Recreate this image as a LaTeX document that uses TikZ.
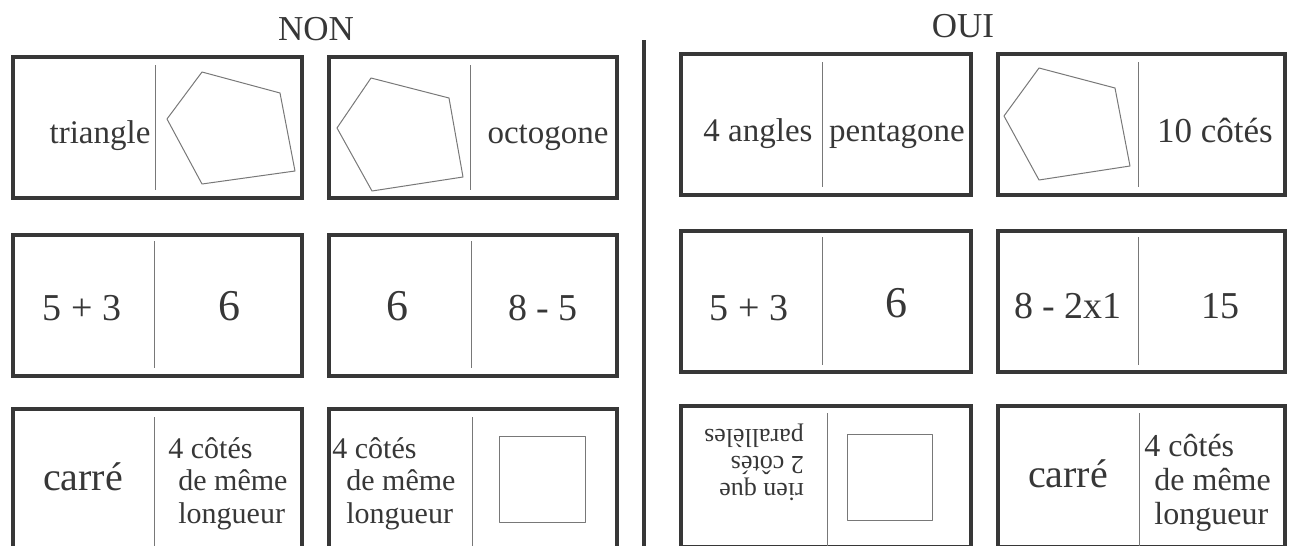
\documentclass[tikz,border=0pt]{standalone}
\usepackage{fontspec}
\setmainfont{Liberation Serif}
\usetikzlibrary{positioning}
\definecolor{inkgray}{RGB}{55,55,55}
\definecolor{rulegray}{RGB}{120,120,120}

\begin{document}
\begin{tikzpicture}[x=0.5pt, y=-0.5pt,
    card/.style={draw=inkgray, line width=1.7pt},
    divline/.style={draw=rulegray, line width=0.45pt},
    outline/.style={draw=rulegray, line width=0.5pt, line join=round},
    word/.style={text=inkgray, inner sep=0pt, anchor=base, font=\fontsize{16.5}{19}\selectfont},
    bigword/.style={word, font=\fontsize{19}{22}\selectfont},
    small/.style={word, anchor=base west, font=\fontsize{15}{17}\selectfont}]
    \useasboundingbox (0,0) rectangle (1292,546);
    \clip (0,0) rectangle (1292,546);

    % Titres
    \node[word, font=\fontsize{17.5}{20}\selectfont] (non) at (316,40) {NON};
    \node[word, font=\fontsize{17.5}{20}\selectfont] (oui) at (963,37) {OUI};
    \draw[draw=inkgray, line width=2pt] (644,40) -- (644,546);

    % Cartes (gauche et droite)
    \foreach \y in {57,235,409} {
        \draw[card] (13,\y) rectangle (302,\y+141);
        \draw[card] (329,\y) rectangle (617,\y+141);
    }
    \foreach \y in {54,231,406} {
        \draw[card] (681,\y) rectangle (971,\y+141);
        \draw[card] (998,\y) rectangle (1285,\y+141);
    }

    % Traits du milieu
    \draw[divline] (155,65) -- (155,190);
    \draw[divline] (470,65) -- (470,190);
    \draw[divline] (822,62) -- (822,187);
    \draw[divline] (1138,62) -- (1138,187);
    \draw[divline] (154,241) -- (154,368);
    \draw[divline] (471,241) -- (471,368);
    \draw[divline] (822,237) -- (822,365);
    \draw[divline] (1138,237) -- (1138,365);
    \draw[divline] (154,417) -- (154,546);
    \draw[divline] (472,417) -- (472,546);
    \draw[divline] (827,413) -- (827,546);
    \draw[divline] (1139,413) -- (1139,546);

    % Ligne 1
    \node[word] (tri) at (100,143) {triangle};
    \draw[outline] (202,72) -- (280,93) -- (295,171) -- (202,184) -- (167,119) -- cycle;
    \draw[outline] (371,78) -- (449,98) -- (463,177) -- (372,191) -- (337,128) -- cycle;
    \node[word] (oct) at (548,143) {octogone};
    \node[word] (ang) at (758,141) {4 angles};
    \node[word] (pen) at (897,141) {pentagone};
    \draw[outline] (1039,68) -- (1115,88) -- (1130,166) -- (1039,180) -- (1004,116) -- cycle;
    \node[word, font=\fontsize{17.5}{20}\selectfont] (dix) at (1215,142) {10 côtés};

    % Ligne 2
    \node[bigword] (s1) at (82,320) {5 + 3};
    \node[word, font=\fontsize{22}{24}\selectfont] (six1) at (229,320) {6};
    \node[word, font=\fontsize{22}{24}\selectfont] (six2) at (397,320) {6};
    \node[bigword] (d1) at (543,320) {8 - 5};
    \node[bigword] (s2) at (749,320) {5 + 3};
    \node[word, font=\fontsize{22}{24}\selectfont] (six3) at (896,317) {6};
    \node[bigword] (d2) at (1068,318) {8 - 2x1};
    \node[bigword] (quinze) at (1220,318) {15};

    % Ligne 3
    \node[word, font=\fontsize{20}{22}\selectfont] (car1) at (83,490) {carré};
    \node[small] (a1) at (168,458) {4 côtés};
    \node[small] (a2) at (178,490) {de même};
    \node[small] (a3) at (178,523) {longueur};
    \node[small] (b1) at (332,458) {4 côtés};
    \node[small] (b2) at (346,490) {de même};
    \node[small] (b3) at (346,523) {longueur};
    \draw[outline] (499,436) rectangle (585,522);
    \node[text=inkgray, inner sep=0pt, align=left, rotate=180,
          font=\fontsize{13}{13.5}\selectfont] (rien) at (754,462)
          {rien que\\2 côtés\\parallèles};
    \draw[outline] (847,434) rectangle (932,520);
    \node[word, font=\fontsize{20}{22}\selectfont] (car2) at (1068,487) {carré};
    \node[small, font=\fontsize{16}{18}\selectfont] (c1) at (1144,456) {4 côtés};
    \node[small, font=\fontsize{16}{18}\selectfont] (c2) at (1154,490) {de même};
    \node[small, font=\fontsize{16}{18}\selectfont] (c3) at (1154,524) {longueur};
\end{tikzpicture}
\end{document}
